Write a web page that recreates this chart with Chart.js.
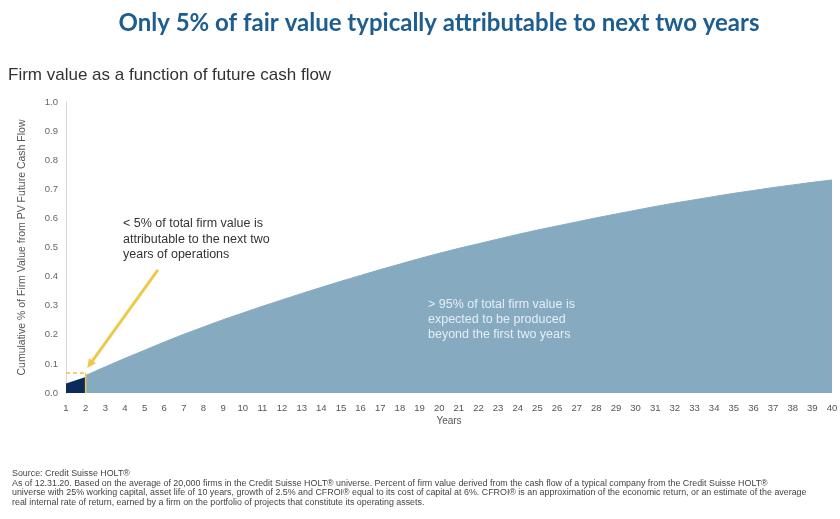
<!DOCTYPE html>
<html>
<head>
<meta charset="utf-8">
<title>Firm value as a function of future cash flow</title>
<script src="https://cdn.jsdelivr.net/npm/chart.js@4.4.1/dist/chart.umd.min.js"></script>
<style>
    html, body { margin: 0; padding: 0; background: #fff; }
    #wrap { position: relative; width: 840px; height: 519px; }
</style>
</head>
<body>
<div id="wrap"><canvas id="chart" width="840" height="519"></canvas></div>
<script>
// Years on the x axis
const years = [1, 2, 3, 4, 5, 6, 7, 8, 9, 10, 11, 12, 13, 14, 15, 16, 17, 18, 19, 20,
    21, 22, 23, 24, 25, 26, 27, 28, 29, 30, 31, 32, 33, 34, 35, 36, 37, 38, 39, 40];

// Cumulative share of firm value, first two years (dark area)
const firstTwoYears = [0.033, 0.055];

// Cumulative share of firm value, year 2 onwards (light area)
const laterYears = [null, 0.060, 0.090, 0.119, 0.147, 0.175, 0.202, 0.227, 0.252, 0.275,
    0.298, 0.320, 0.342, 0.363, 0.384, 0.404, 0.424, 0.443, 0.462, 0.480,
    0.497, 0.513, 0.529, 0.545, 0.560, 0.574, 0.588, 0.602, 0.615, 0.628,
    0.641, 0.653, 0.664, 0.675, 0.686, 0.696, 0.706, 0.715, 0.724, 0.732];

// Yellow marker around the two-year value
const markerLevel = 0.069;
const markerYears = [1, 2];

// Arrow from the left note down to year 2 (year, value)
const arrowFrom = [5.68, 0.423];
const arrowTo = [2.08, 0.086];

const TITLE = 'Only 5% of fair value typically attributable to next two years';
const SUBTITLE = 'Firm value as a function of future cash flow';
const Y_TITLE = 'Cumulative % of Firm Value from PV Future Cash Flow';
const X_TITLE = 'Years';
const NOTE_LEFT = ['< 5% of total firm value is', 'attributable to the next two', 'years of operations'];
const NOTE_RIGHT = ['> 95% of total firm value is', 'expected to be produced', 'beyond the first two years'];
const FOOTER = [
    'Source: Credit Suisse HOLT\u00ae',
    'As of 12.31.20. Based on the average of 20,000 firms in the Credit Suisse HOLT\u00ae universe. Percent of firm value derived from the cash flow of a typical company from the Credit Suisse HOLT\u00ae',
    'universe with 25% working capital, asset life of 10 years, growth of 2.5% and CFROI\u00ae equal to its cost of capital at 6%. CFROI\u00ae is an approximation of the economic return, or an estimate of the average',
    'real internal rate of return, earned by a firm on the portfolio of projects that constitute its operating assets.'
];

const LIGHT = '#86abc0';
const DARK = '#0c2a5a';
const YELLOW = '#ecc94b';
const TITLE_BLUE = '#1d5d8f';
const SANS = '"Liberation Sans", Arial, sans-serif';

const toPoints = (xs, ys) => xs.map((x, i) => ({ x: x, y: ys[i] })).filter(p => p.y !== null && p.y !== undefined);

// Texts, the arrow and the rotated y title
const textPlugin = {
    id: 'texts',
    afterDraw(chart) {
        const ctx = chart.ctx;
        const xs = chart.scales.x;
        const ys = chart.scales.y;
        ctx.save();

        // headline
        ctx.textBaseline = 'middle';
        ctx.textAlign = 'center';
        ctx.fillStyle = TITLE_BLUE;
        ctx.font = 'bold 24px Lato, "Open Sans", sans-serif';
        ctx.fillText(TITLE, 439, 23);

        // subtitle
        ctx.textAlign = 'left';
        ctx.fillStyle = '#333';
        ctx.font = '17px ' + SANS;
        ctx.fillText(SUBTITLE, 8, 75);

        // y axis title
        ctx.save();
        ctx.translate(22, (chart.chartArea.top + chart.chartArea.bottom) / 2);
        ctx.rotate(-Math.PI / 2);
        ctx.textAlign = 'center';
        ctx.fillStyle = '#555';
        ctx.font = '10.5px ' + SANS;
        ctx.fillText(Y_TITLE, 0, 0);
        ctx.restore();

        // x axis title
        ctx.textAlign = 'center';
        ctx.fillStyle = '#555';
        ctx.font = '10px ' + SANS;
        ctx.fillText(X_TITLE, 449, 421);

        // arrow
        const x0 = xs.getPixelForValue(arrowFrom[0]), y0 = ys.getPixelForValue(arrowFrom[1]);
        const x1 = xs.getPixelForValue(arrowTo[0]), y1 = ys.getPixelForValue(arrowTo[1]);
        const ang = Math.atan2(y1 - y0, x1 - x0);
        ctx.strokeStyle = YELLOW;
        ctx.fillStyle = YELLOW;
        ctx.lineWidth = 3;
        ctx.beginPath();
        ctx.moveTo(x0, y0);
        ctx.lineTo(x1 - 7 * Math.cos(ang), y1 - 7 * Math.sin(ang));
        ctx.stroke();
        ctx.beginPath();
        ctx.moveTo(x1, y1);
        ctx.lineTo(x1 - 10 * Math.cos(ang - 0.45), y1 - 10 * Math.sin(ang - 0.45));
        ctx.lineTo(x1 - 10 * Math.cos(ang + 0.45), y1 - 10 * Math.sin(ang + 0.45));
        ctx.closePath();
        ctx.fill();

        // notes
        ctx.textAlign = 'left';
        ctx.font = '12.5px ' + SANS;
        ctx.fillStyle = '#333';
        NOTE_LEFT.forEach((line, i) => ctx.fillText(line, 123, 224 + i * 15.5));
        ctx.fillStyle = '#e4eef3';
        NOTE_RIGHT.forEach((line, i) => ctx.fillText(line, 428, 305 + i * 15));

        // footer
        ctx.fillStyle = '#444';
        ctx.font = '8.9px ' + SANS;
        FOOTER.forEach((line, i) => ctx.fillText(line, 12, 474 + i * 9.5));

        ctx.restore();
    }
};

new Chart(document.getElementById('chart').getContext('2d'), {
    type: 'line',
    data: {
        datasets: [
            {
                label: 'Years 1-2',
                data: toPoints(years, firstTwoYears),
                backgroundColor: DARK,
                borderWidth: 0,
                pointRadius: 0,
                fill: 'origin',
                order: 2
            },
            {
                label: 'Beyond year 2',
                data: toPoints(years, laterYears),
                backgroundColor: LIGHT,
                borderColor: LIGHT,
                borderWidth: 1,
                pointRadius: 0,
                fill: 'origin',
                order: 3
            },
            {
                label: 'marker',
                data: markerYears.map(x => ({ x: x, y: markerLevel })),
                borderColor: '#f2b94e',
                borderWidth: 1.5,
                borderDash: [4, 3],
                pointRadius: 0,
                fill: false,
                order: 1
            },
            {
                label: 'marker edge',
                data: [{ x: markerYears[1], y: 0 }, { x: markerYears[1], y: markerLevel }],
                borderColor: YELLOW,
                borderWidth: 1.5,
                pointRadius: 0,
                fill: false,
                order: 1
            }
        ]
    },
    options: {
        responsive: false,
        animation: false,
        layout: { padding: { left: 0, right: 8, top: 102, bottom: 88 } },
        plugins: {
            legend: { display: false },
            tooltip: { enabled: false }
        },
        scales: {
            x: {
                type: 'linear',
                min: years[0],
                max: years[years.length - 1],
                grid: { display: false, drawTicks: true },
                border: { display: false },
                ticks: {
                    stepSize: 1,
                    autoSkip: false,
                    maxRotation: 0,
                    padding: 2,
                    color: '#555',
                    font: { size: 9.5, family: SANS }
                },
                afterFit: (s) => { s.height = 38; }
            },
            y: {
                min: 0,
                max: 1,
                grid: { display: false, drawTicks: true, tickLength: 3, color: '#ccc' },
                border: { display: true, color: '#d6d6d6' },
                ticks: {
                    stepSize: 0.1,
                    padding: 5,
                    color: '#666',
                    font: { size: 9.5, family: SANS },
                    callback: (v) => v.toFixed(1)
                },
                afterFit: (s) => { s.width = 66; }
            }
        }
    },
    plugins: [textPlugin]
});
</script>
</body>
</html>
